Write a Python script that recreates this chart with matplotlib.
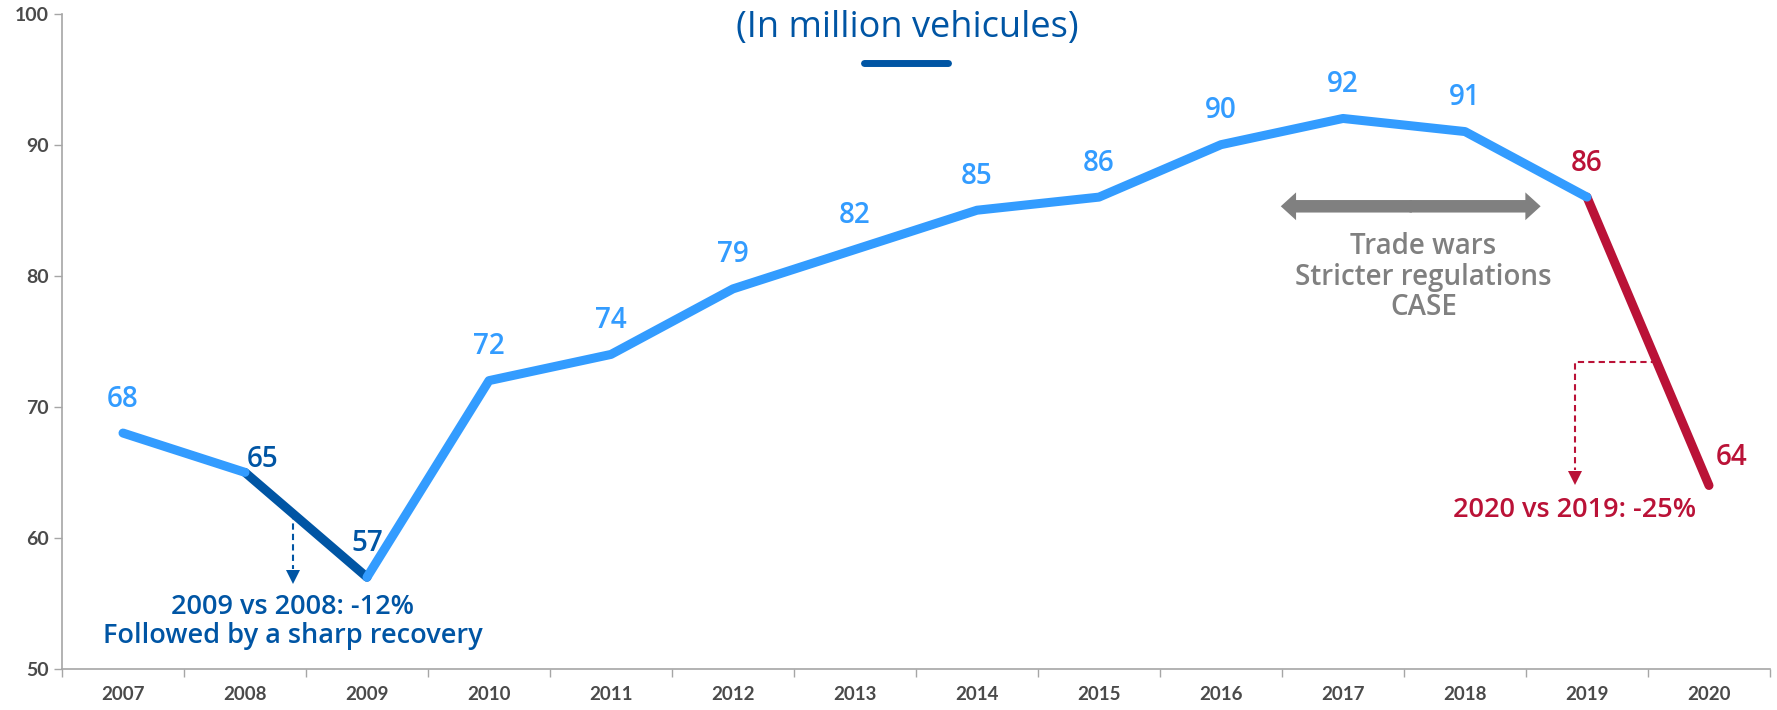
import matplotlib.pyplot as plt
from matplotlib.patches import FancyArrowPatch
import numpy as np

plt.rcParams['font.family'] = ['Lato', 'DejaVu Sans']
TEXT_FONT = ['Open Sans', 'DejaVu Sans']

# Data
years = ['2007', '2008', '2009', '2010', '2011', '2012', '2013',
         '2014', '2015', '2016', '2017', '2018', '2019', '2020']
production = [68, 65, 57, 72, 74, 79, 82, 85, 86, 90, 92, 91, 86, 64]

LIGHT = '#339CFF'
DARK = '#0055A4'
RED = '#BA1237'
GRAY = '#808080'

x = np.arange(len(years))
y = np.array(production)

fig = plt.figure(figsize=(17.77, 7.10), dpi=100)
ax = fig.add_axes([62 / 1777, 1 - 669 / 710, (1770 - 62) / 1777, (669 - 13.6) / 710])

lw = 6.5
# Highlighted segments first, light line on top
ax.plot(x[1:3], y[1:3], color=DARK, lw=lw, solid_capstyle='round', zorder=2)
ax.plot(x[12:14], y[12:14], color=RED, lw=lw, solid_capstyle='round', zorder=2)
ax.plot(x[0:2], y[0:2], color=LIGHT, lw=lw, solid_capstyle='round', zorder=3)
ax.plot(x[2:13], y[2:13], color=LIGHT, lw=lw, solid_capstyle='round', zorder=3)

# Value labels
label_colors = [LIGHT] * len(years)
label_colors[1] = DARK
label_colors[2] = DARK
label_colors[12] = RED
label_colors[13] = RED
offsets = {1: (13, 9), 13: (16, 20)}
for i, v in enumerate(production):
    dx, dy = offsets.get(i, (0, 24.5))
    ax.annotate(str(v), (x[i], v), textcoords='offset points', xytext=(dx, dy),
                ha='center', va='center', fontsize=20, color=label_colors[i],
                family=TEXT_FONT, fontweight='semibold')

# Axes styling
ax.set_xlim(-0.5, len(years) - 0.5)
ax.set_ylim(50, 100)
ax.set_yticks([50, 60, 70, 80, 90, 100])
ax.set_xticks(np.arange(-0.5, len(years), 1))
ax.set_xticklabels([])
ax.set_xticks(x, minor=True)
ax.set_xticklabels(years, minor=True, fontweight='bold')
ax.set_yticklabels([50, 60, 70, 80, 90, 100], fontweight='bold')
ax.tick_params(axis='x', which='major', length=5.5, width=1, color='#A6A6A6', direction='out')
ax.tick_params(axis='x', which='minor', length=0, pad=12, labelsize=13.5, labelcolor='#4A4A4A')
ax.tick_params(axis='y', length=5.5, width=1, color='#A6A6A6', pad=4, labelsize=14,
               labelcolor='#4A4A4A')
for side in ['top', 'right']:
    ax.spines[side].set_visible(False)
for side in ['left', 'bottom']:
    ax.spines[side].set_color('#A6A6A6')
    ax.spines[side].set_linewidth(1.2)

# Title
fig.text(907 / 1777, 1 - 28 / 710, '(In million vehicules)', ha='center', va='center',
         fontsize=26, color=DARK, family=TEXT_FONT)
fig.add_artist(plt.Line2D([864 / 1777, 948 / 1777], [1 - 63 / 710, 1 - 63 / 710],
                          color=DARK, lw=5, solid_capstyle='round'))

# 2009 annotation
ax.plot([1.39, 1.39], [61.9, 57.6], color=DARK, lw=1.5, ls=(0, (3, 2)))
ax.plot([1.39], [57.0], marker='v', color=DARK, markersize=10, markeredgewidth=0)
ax.text(1.39, 54.7, '2009 vs 2008: -12%', ha='center', va='center', fontsize=19.5,
        color=DARK, family=TEXT_FONT, fontweight='semibold')
ax.text(1.39, 52.5, 'Followed by a sharp recovery', ha='center', va='center', fontsize=19.5,
        color=DARK, family=TEXT_FONT, fontweight='semibold')

# 2020 annotation
ax.plot([12.57, 11.9, 11.9], [73.4, 73.4, 65.2], color=RED, lw=1.5, ls=(0, (3, 2)))
ax.plot([11.9], [64.6], marker='v', color=RED, markersize=10, markeredgewidth=0)
ax.text(11.9, 62.1, '2020 vs 2019: -25%', ha='center', va='center', fontsize=19.5,
        color=RED, family=TEXT_FONT, fontweight='semibold')

# Gray double arrow
left_end, right_end, arrow_y = 9.49, 11.62, 85.3
mid = (left_end + right_end) / 2
style = 'simple,head_length=11,head_width=20,tail_width=9'
for start, end in ((mid + 0.01, left_end), (mid - 0.01, right_end)):
    ax.add_patch(FancyArrowPatch((start, arrow_y), (end, arrow_y), arrowstyle=style,
                                 mutation_scale=1, color=GRAY, lw=0,
                                 shrinkA=0, shrinkB=0))
ax.text(10.66, 79.9, 'Trade wars\nStricter regulations\nCASE', ha='center', va='center',
        fontsize=20, color=GRAY, linespacing=1.05, family=TEXT_FONT, fontweight='semibold')

fig.savefig('out.png', dpi=100)
